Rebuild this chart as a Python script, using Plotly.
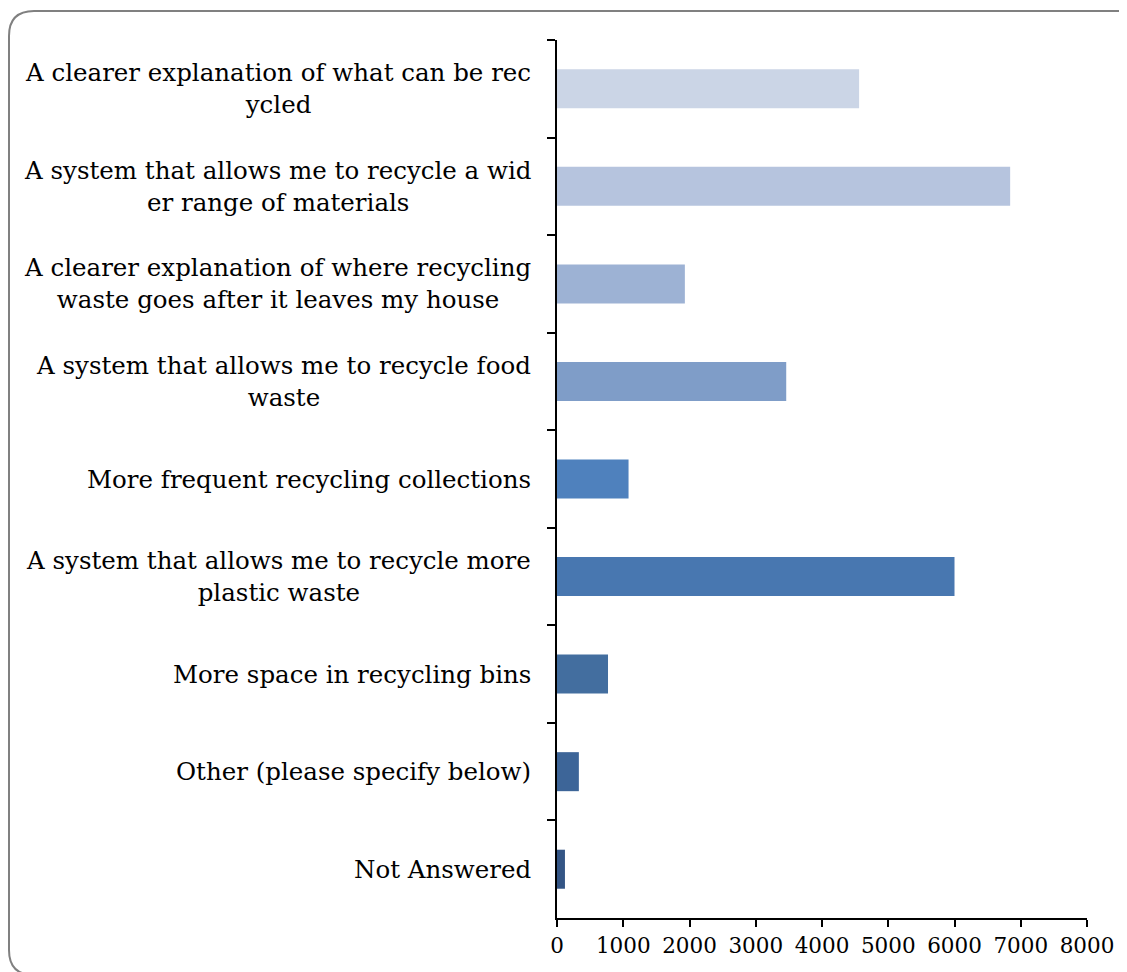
import plotly.graph_objects as go

categories = [
    "A clearer explanation of what can be rec<br>ycled",
    "A system that allows me to recycle a wid<br>er range of materials",
    "A clearer explanation of where recycling<br>waste goes after it leaves my house",
    "A system that allows me to recycle food<br>waste",
    "More frequent recycling collections",
    "A system that allows me to recycle more<br>plastic waste",
    "More space in recycling bins",
    "Other (please specify below)",
    "Not Answered",
]
values = [4560, 6840, 1930, 3460, 1080, 6000, 770, 330, 120]
bar_colors = ["#CBD5E6", "#B6C4DE", "#9DB2D4", "#7F9DC8", "#4F81BD",
              "#4877B0", "#436E9F", "#3D6598", "#345585"]
x_ticks = [0, 1000, 2000, 3000, 4000, 5000, 6000, 7000, 8000]

W, H = 1127, 972
ML, MR, MT, MB = 549, 48, 32, 62
PW, PH = W - ML - MR, H - MT - MB
FONT = "DejaVu Serif"


def px(x):
    return (x - ML) / PW


def py(y):
    return (H - MB - y) / PH


fig = go.Figure(go.Bar(
    y=categories, x=values, orientation="h",
    marker=dict(color=bar_colors, line=dict(width=0)),
))

for c in categories:
    fig.add_annotation(
        x=0, xref="paper", y=c, yref="y", text=c, showarrow=False,
        xanchor="right", yanchor="middle", align="center", xshift=-24,
        font=dict(family=FONT, size=24.5, color="#000000"),
    )

# rounded border around the chart area
x0, y0, x1, y1, r = 1, 3, 1137, 967, 25
path = (f"M {px(x0)} {py(y1 - r)} L {px(x0)} {py(y0 + r)} "
        f"Q {px(x0)} {py(y0)} {px(x0 + r)} {py(y0)} "
        f"L {px(x1 - r)} {py(y0)} Q {px(x1)} {py(y0)} {px(x1)} {py(y0 + r)} "
        f"L {px(x1)} {py(y1 - r)} Q {px(x1)} {py(y1)} {px(x1 - r)} {py(y1)} "
        f"L {px(x0 + r)} {py(y1)} Q {px(x0)} {py(y1)} {px(x0)} {py(y1 - r)} Z")
fig.add_shape(type="path", path=path, xref="paper", yref="paper",
              line=dict(color="#808080", width=2), layer="below")

fig.update_layout(
    width=W, height=H,
    margin=dict(l=ML, r=MR, t=MT, b=MB),
    paper_bgcolor="white", plot_bgcolor="white",
    showlegend=False, bargap=0.6,
    font=dict(family=FONT, color="#000000"),
)
fig.update_xaxes(
    range=[0, 8000], tickvals=x_ticks, ticktext=[str(v) for v in x_ticks],
    showgrid=False, zeroline=False, showline=True, linecolor="#000000",
    linewidth=1.5, ticks="outside", ticklen=7, tickwidth=1.5,
    tickcolor="#000000", tickfont=dict(family=FONT, size=21.5, color="#000000"),
)
fig.update_yaxes(
    autorange="reversed", showticklabels=False, showgrid=False,
    showline=True, linecolor="#000000", linewidth=2,
    ticks="outside", tickson="boundaries", ticklen=8, tickwidth=1.5,
    tickcolor="#000000",
)

fig.write_html("out.html")
